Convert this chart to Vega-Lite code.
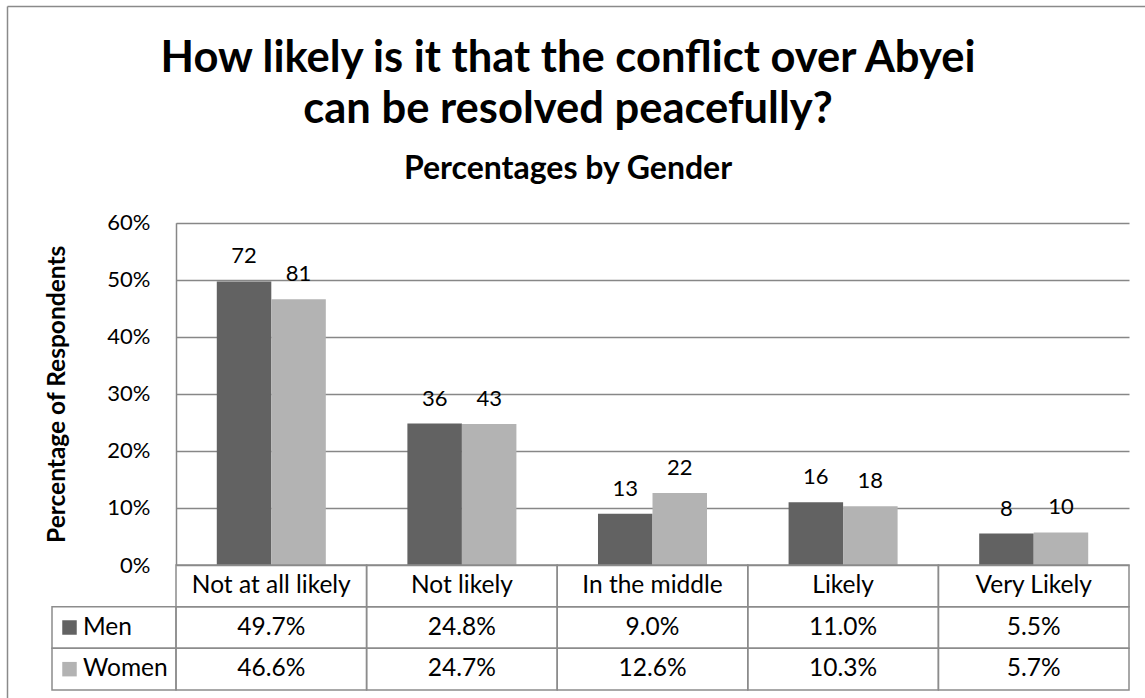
{
  "$schema": "https://vega.github.io/schema/vega-lite/v6.json",
  "autosize": {"type": "none"},
  "width": 1138,
  "height": 692,
  "padding": {"left": 7, "top": 6, "right": 0, "bottom": 0},
  "background": "white",
  "config": {
    "view": {"stroke": null},
    "font": "Lato",
    "text": {"font": "Lato", "color": "black"}
  },
  "title": {
    "text": ["How likely is it that the conflict over Abyei", "can be resolved peacefully?"],
    "subtitle": "Percentages by Gender",
    "font": "Lato",
    "subtitleFont": "Lato",
    "fontSize": 43.5,
    "fontWeight": "bold",
    "subtitleFontSize": 32,
    "subtitleFontWeight": "bold",
    "color": "black",
    "subtitleColor": "black",
    "anchor": "middle",
    "frame": "group",
    "offset": -180,
    "dx": -8,
    "lineHeight": 51,
    "subtitlePadding": 22
  },
  "data": {
    "values": [
      {"category": "Not at all likely", "gender": "Men", "pct": 0.497, "count": 72},
      {"category": "Not at all likely", "gender": "Women", "pct": 0.466, "count": 81},
      {"category": "Not likely", "gender": "Men", "pct": 0.248, "count": 36},
      {"category": "Not likely", "gender": "Women", "pct": 0.247, "count": 43},
      {"category": "In the middle", "gender": "Men", "pct": 0.090, "count": 13},
      {"category": "In the middle", "gender": "Women", "pct": 0.126, "count": 22},
      {"category": "Likely", "gender": "Men", "pct": 0.110, "count": 16},
      {"category": "Likely", "gender": "Women", "pct": 0.103, "count": 18},
      {"category": "Very Likely", "gender": "Men", "pct": 0.055, "count": 8},
      {"category": "Very Likely", "gender": "Women", "pct": 0.057, "count": 10}
    ]
  },
  "layer": [
    {
      "mark": {"type": "point", "size": 0, "opacity": 0, "filled": true, "strokeWidth": 0},
      "encoding": {
        "x": {
          "field": "pct", "type": "quantitative",
          "axis": {"orient": "top", "domain": true, "domainColor": "#8a8a8a", "domainWidth": 1.5, "labels": false, "ticks": false, "grid": false, "title": null}
        },
        "y": {
          "field": "count", "type": "quantitative",
          "axis": {"orient": "left", "domain": true, "domainColor": "#8a8a8a", "domainWidth": 1.5, "labels": false, "ticks": false, "grid": false, "title": null}
        }
      }
    },
    {
      "encoding": {
        "x": {
          "field": "category", "type": "nominal",
          "sort": ["Not at all likely", "Not likely", "In the middle", "Likely", "Very Likely"],
          "scale": {"range": [169, 1122], "paddingInner": 0.428, "paddingOuter": 0.214},
          "axis": null
        },
        "xOffset": {
          "field": "gender", "type": "nominal",
          "scale": {"domain": ["Men", "Women"], "paddingInner": 0, "paddingOuter": 0}
        },
        "y": {
          "field": "pct", "type": "quantitative",
          "scale": {"domain": [0, 0.6], "range": [559, 216.7], "nice": false, "zero": true},
          "axis": {
            "orient": "left",
            "offset": -169,
            "values": [0, 0.1, 0.2, 0.3, 0.4, 0.5, 0.6],
            "format": ".0%",
            "grid": true,
            "gridColor": "#878787",
            "gridWidth": 1.5,
            "domainColor": "#878787",
            "domainWidth": 1.5,
            "ticks": false,
            "tickSize": 0,
            "labelPadding": 26,
            "labelFontSize": 22,
            "labelColor": "black",
            "labelFont": "Lato",
            "title": "Percentage of Respondents",
            "titleFont": "Lato",
            "titleFontSize": 24.5,
            "titleFontWeight": "bold",
            "titleColor": "black",
            "titlePadding": 37
          }
        }
      },
      "layer": [
        {
          "mark": {"type": "bar"},
          "encoding": {
            "color": {
              "field": "gender", "type": "nominal",
              "scale": {"domain": ["Men", "Women"], "range": ["#626262", "#b3b3b3"]},
              "legend": null
            }
          }
        },
        {
          "mark": {"type": "text", "baseline": "alphabetic", "dy": -18, "fontSize": 22, "color": "black"},
          "encoding": {"text": {"field": "count", "type": "quantitative"}}
        }
      ]
    },
    {
      "encoding": {
        "x": {
          "field": "category", "type": "nominal",
          "sort": ["Not at all likely", "Not likely", "In the middle", "Likely", "Very Likely"],
          "scale": {"range": [169, 1122], "paddingInner": 0, "paddingOuter": 0},
          "axis": null
        }
      },
      "layer": [
        {
          "mark": {"type": "rect", "fill": "transparent", "stroke": "#8c8c8c", "strokeWidth": 1.5},
          "encoding": {
            "y": {
              "field": "gender", "type": "nominal",
              "scale": {"domain": ["h", "Men", "Women"], "range": [559, 684], "paddingInner": 0, "paddingOuter": 0},
              "axis": null
            }
          }
        },
        {
          "transform": [{"filter": "datum.gender === 'Men'"}],
          "mark": {"type": "rect", "fill": "transparent", "stroke": "#8c8c8c", "strokeWidth": 1.5},
          "encoding": {"y": {"datum": "h", "type": "nominal"}}
        },
        {
          "mark": {"type": "text", "fontSize": 24.5, "color": "black"},
          "encoding": {
            "y": {"field": "gender", "type": "nominal"},
            "text": {"field": "pct", "type": "quantitative", "format": ".1%"}
          }
        },
        {
          "transform": [{"filter": "datum.gender === 'Men'"}],
          "mark": {"type": "text", "fontSize": 24.5, "color": "black"},
          "encoding": {
            "y": {"datum": "h", "type": "nominal"},
            "text": {"field": "category", "type": "nominal"}
          }
        }
      ]
    },
    {
      "transform": [{"filter": "datum.category === 'Not at all likely'"}],
      "encoding": {
        "x": {
          "datum": "legend", "type": "nominal",
          "scale": {"domain": ["legend"], "range": [45, 169], "paddingInner": 0, "paddingOuter": 0},
          "axis": null
        },
        "y": {
          "field": "gender", "type": "nominal",
          "scale": {"domain": ["h", "Men", "Women"], "range": [559, 684], "paddingInner": 0, "paddingOuter": 0},
          "axis": null
        }
      },
      "layer": [
        {"mark": {"type": "rect", "fill": "transparent", "stroke": "#8c8c8c", "strokeWidth": 1.5}},
        {
          "mark": {"type": "point", "shape": "square", "filled": true, "size": 210, "opacity": 1, "xOffset": -44.5},
          "encoding": {
            "color": {
              "field": "gender", "type": "nominal",
              "scale": {"domain": ["Men", "Women"], "range": ["#626262", "#b3b3b3"]},
              "legend": null
            }
          }
        },
        {
          "mark": {"type": "text", "align": "left", "xOffset": -31, "fontSize": 24.5, "color": "black"},
          "encoding": {"text": {"field": "gender", "type": "nominal"}}
        }
      ]
    }
  ],
  "resolve": {"scale": {"x": "independent", "y": "independent"}}
}
